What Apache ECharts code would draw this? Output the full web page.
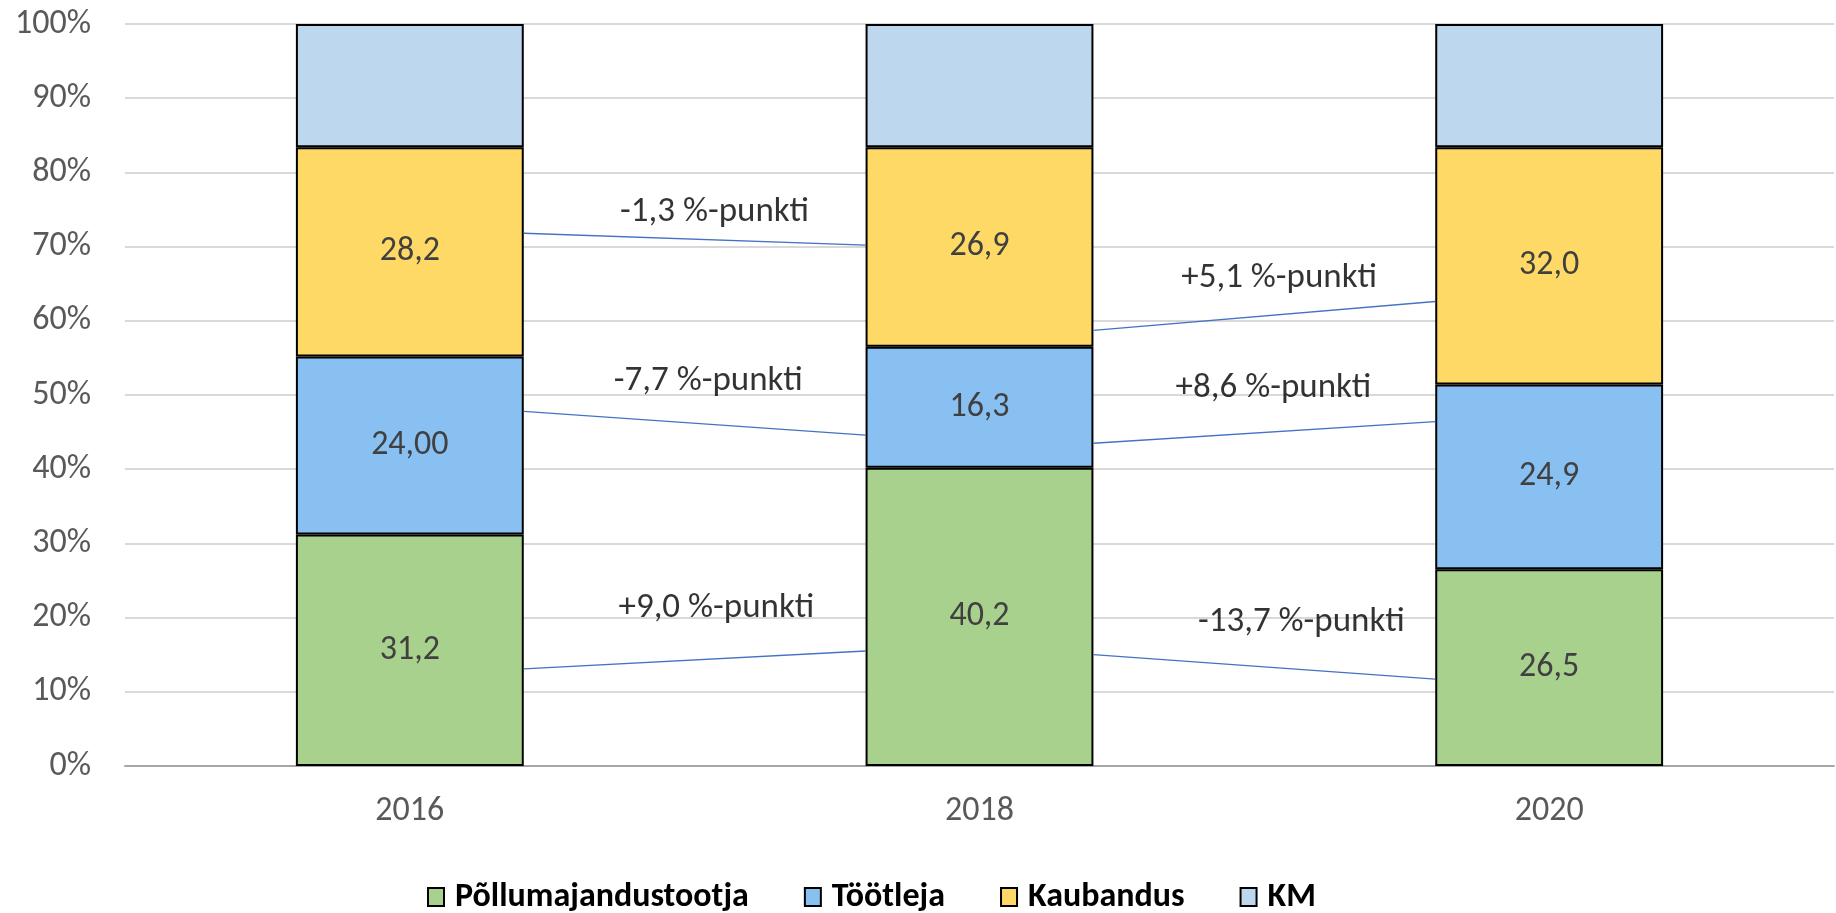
<!DOCTYPE html>
<html lang="et">
<head>
    <meta charset="utf-8">
    <title>Osakaalud 2016-2020</title>
    <script src="https://cdn.jsdelivr.net/npm/echarts@6/dist/echarts.min.js"></script>
    <style>
        html, body { margin: 0; padding: 0; background: #fff; }
        #chart { width: 1836px; height: 913px; }
    </style>
</head>
<body>
    <div id="chart"></div>
    <script>
        // andmed
        var years = ['2016', '2018', '2020'];
        var seriesNames = ['Põllumajandustootja', 'Töötleja', 'Kaubandus', 'KM'];
        var pollumajandus = [31.2, 40.2, 26.5];
        var tootleja = [24.0, 16.3, 24.9];
        var kaubandus = [28.2, 26.9, 32.0];
        var km = [16.6, 16.6, 16.6];
        var pollumajandusLabels = ['31,2', '40,2', '26,5'];
        var tootlejaLabels = ['24,00', '16,3', '24,9'];
        var kaubandusLabels = ['28,2', '26,9', '32,0'];
        var yTicks = [0, 10, 20, 30, 40, 50, 60, 70, 80, 90, 100];

        // muutuste jooned: [x algus, y algus, x lõpp, y lõpp] (x = kategooria skaala 0..3)
        var changeLines = [
            [0.7, 71.8, 1.3, 70.2],
            [0.7, 47.8, 1.3, 44.6],
            [0.7, 13.1, 1.3, 15.5],
            [1.7, 58.7, 2.3, 62.6],
            [1.7, 43.5, 2.3, 46.4],
            [1.7, 15.0, 2.3, 11.7]
        ];
        var changeTexts = ['-1,3 %-punkti', '-7,7 %-punkti', '+9,0 %-punkti',
                           '+5,1 %-punkti', '+8,6 %-punkti', '-13,7 %-punkti'];
        var changeTextPos = [
            [1.035, 74.6], [1.024, 51.9], [1.038, 21.3],
            [2.026, 65.8], [2.016, 50.9], [2.065, 19.4]
        ];

        var colors = ['#A9D18E', '#88C0F2', '#FFD966', '#BDD7EE'];
        var font = 'Carlito, Calibri, "Liberation Sans Narrow", Roboto, sans-serif';

        var chart = echarts.init(document.getElementById('chart'));

        function barSeries(name, data, labels, color) {
            return {
                name: name,
                type: 'bar',
                stack: 'kokku',
                barWidth: '40%',
                data: data,
                itemStyle: { color: color, borderColor: '#000', borderWidth: 2 },
                label: {
                    show: !!labels,
                    position: 'inside',
                    color: '#404040',
                    fontSize: 34,
                    fontFamily: font,
                    formatter: function (p) { return labels ? labels[p.dataIndex] : ''; }
                },
                silent: true
            };
        }

        var series = [
            barSeries(seriesNames[0], pollumajandus, pollumajandusLabels, colors[0]),
            barSeries(seriesNames[1], tootleja, tootlejaLabels, colors[1]),
            barSeries(seriesNames[2], kaubandus, kaubandusLabels, colors[2]),
            barSeries(seriesNames[3], km, null, colors[3])
        ];

        changeLines.forEach(function (l) {
            series.push({
                type: 'line',
                xAxisIndex: 1,
                data: [[l[0], l[1]], [l[2], l[3]]],
                symbol: 'none',
                lineStyle: { color: '#4472C4', width: 1.3 },
                silent: true,
                z: 5
            });
        });

        series.push({
            type: 'scatter',
            xAxisIndex: 1,
            symbolSize: 0,
            data: changeTextPos.map(function (p, i) { return { value: p, name: changeTexts[i] }; }),
            label: {
                show: true,
                position: 'inside',
                color: '#000',
                fontSize: 35,
                fontFamily: font,
                formatter: '{b}'
            },
            silent: true,
            z: 6
        });

        var option = {
            animation: false,
            color: colors,
            grid: { left: 125, right: 2, top: 24, bottom: 147, containLabel: false },
            legend: {
                data: seriesNames,
                left: 422,
                top: 875,
                icon: 'rect',
                itemWidth: 16,
                itemHeight: 18,
                itemGap: 55,
                itemStyle: { borderColor: '#000', borderWidth: 2 },
                textStyle: { color: '#000', fontWeight: 'bold', fontSize: 34, fontFamily: font, padding: [0, 0, 0, 6] }
            },
            xAxis: [{
                type: 'category',
                data: years,
                axisTick: { show: false },
                axisLine: { lineStyle: { color: '#A6A6A6', width: 2 } },
                axisLabel: { color: '#595959', fontSize: 34, fontFamily: font, margin: 28 }
            }, {
                type: 'value',
                min: 0,
                max: 3,
                show: false
            }],
            yAxis: {
                type: 'value',
                min: yTicks[0],
                max: yTicks[yTicks.length - 1],
                interval: 10,
                axisLabel: { formatter: '{value}%', color: '#595959', fontSize: 34, fontFamily: font, margin: 34 },
                axisLine: { show: false },
                axisTick: { show: false },
                splitLine: { lineStyle: { color: '#D9D9D9', width: 2 } }
            },
            series: series
        };

        chart.setOption(option, true);
    </script>
</body>
</html>
